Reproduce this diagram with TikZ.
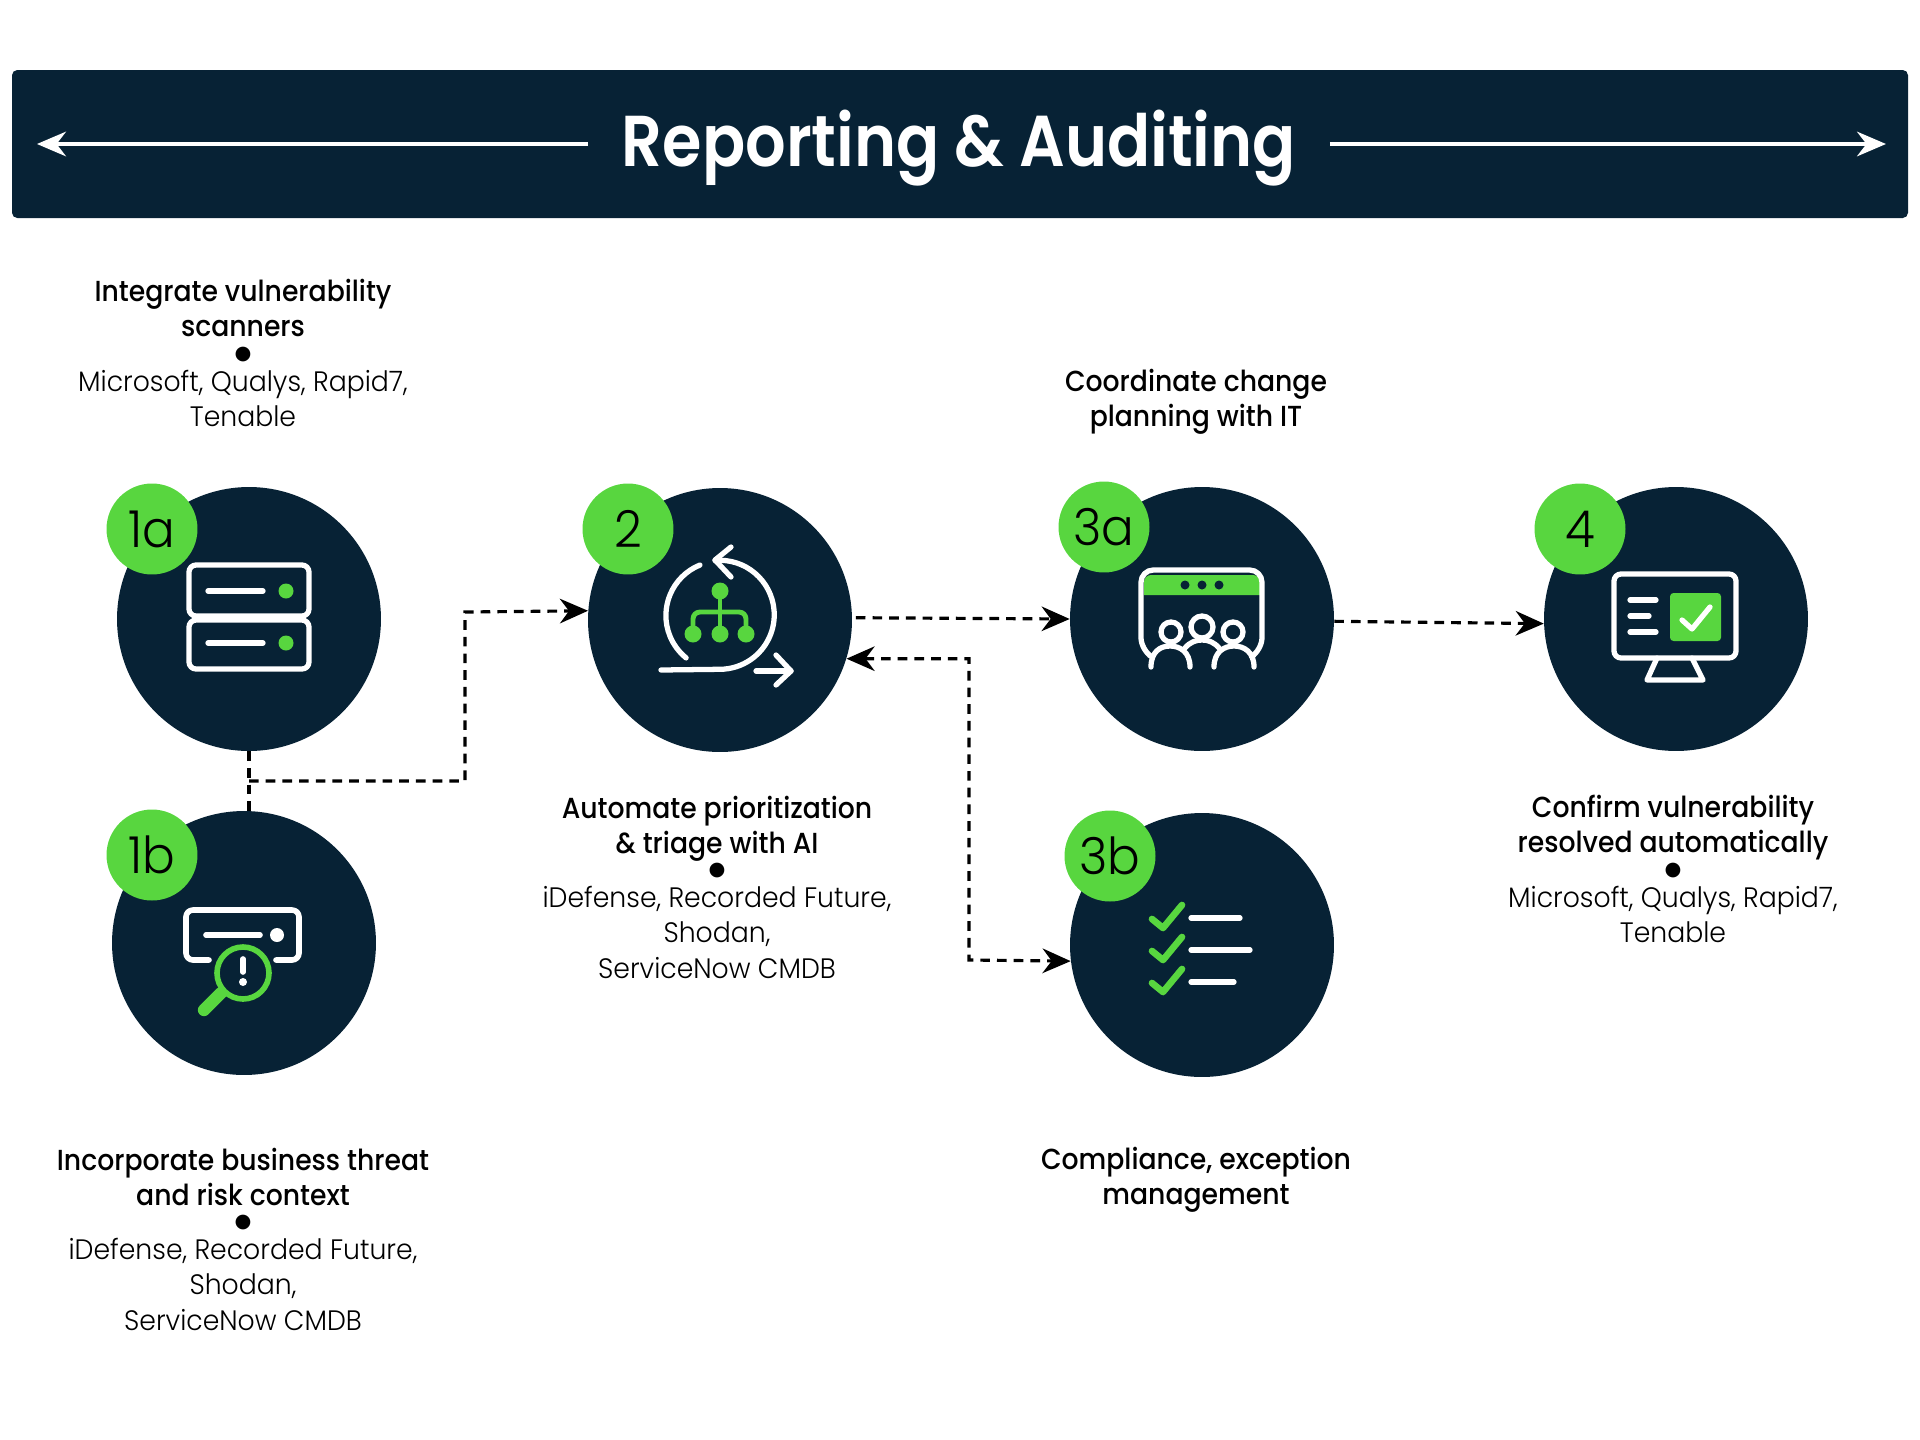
\documentclass[tikz,border=0pt]{standalone}
\usepackage{fontspec}
\setmainfont{Poppins}[FakeStretch=0.95]
\newfontfamily\lightfont{Poppins Light}[FakeStretch=0.95]
\newfontfamily\midfont{Poppins Medium}[FakeStretch=0.92]
\newfontfamily\topfont{Poppins SemiBold}[FakeStretch=0.885]
\newfontfamily\dotfont{DejaVu Sans}
\usetikzlibrary{arrows.meta}
\definecolor{navy}{HTML}{072235}
\definecolor{leaf}{HTML}{58D63F}
\newcommand{\hd}[1]{{\midfont\fontsize{16.5}{20}\selectfont #1}}
\newcommand{\sep}{\raisebox{2.8pt}{\dotfont\fontsize{11}{20}\selectfont ●}}
\tikzset{
    step circle/.style={circle, fill=navy, minimum size=5.28cm, inner sep=0pt},
    badge/.style={circle, fill=leaf, minimum size=1.82cm, inner sep=0pt, font=\lightfont\fontsize{29}{29}\selectfont},
    flow/.style={-{Stealth[length=16pt,width=14pt]}, line width=1.8pt, dash pattern=on 5.5pt off 4pt},
    bar arrow/.style={-{Stealth[length=16.5pt,width=14pt]}, white, line width=2pt},
    caption/.style={align=center, font=\lightfont\fontsize{16}{20}\selectfont, inner sep=0pt},
    ink/.style={white, line width=3pt, line cap=round, line join=round},
    inkg/.style={leaf, line width=3pt, line cap=round, line join=round},
}
\begin{document}
\begin{tikzpicture}[x=0.02cm,y=-0.02cm]
    \useasboundingbox (0,0) rectangle (1920,1440);
    \fill[navy, rounded corners=3pt] (12,70) rectangle (1908,218);
    \node[white, inner xsep=19pt, inner ysep=0pt, font=\topfont\fontsize{41}{41}\selectfont](title) at (959,148) {Reporting \& Auditing};
    \coordinate (barL) at (37,144);
    \coordinate (barR) at (1886,144);
    \draw[bar arrow] (barL -| title.west) -- (barL);
    \draw[bar arrow] (barR -| title.east) -- (barR);

    \node[step circle](n1a) at (249,619) {};
    \node[step circle](n1b) at (244,943) {};
    \node[step circle](n2)  at (720,620) {};
    \node[step circle](n3a) at (1202,619) {};
    \node[step circle](n3b) at (1202,945) {};
    \node[step circle](n4)  at (1676,619) {};

    \node[badge](b1a) at (152,529)  {1a};
    \node[badge](b1b) at (152,855)  {1b};
    \node[badge](b2)  at (628,529)  {2};
    \node[badge](b3a) at (1104,527) {3a};
    \node[badge](b3b) at (1110,856) {3b};
    \node[badge](b4)  at (1580,529) {4};

    \coordinate (forkA) at (249,781);
    \coordinate (elbowA) at (465,612);
    \coordinate (elbowC) at (969,960);
    \path
        (n2.1)   edge [flow, shorten <=2pt] (n3a.west)
        (n3a.-1) edge [flow] (n4.182);
    \draw[flow, -] (n1a.south) -- (n1a.south |- n1b.north);
    \draw[flow] (forkA) -| (elbowA) -- (n2.176.5);
    \draw[flow, {Stealth[length=16pt,width=14pt]}-{Stealth[length=16pt,width=14pt]}] (n2.-17) -| (elbowC) -- (n3b.187);

    \node[caption](t1a) at (243,353) {\hd{Integrate vulnerability}\\\hd{scanners}\\[-4.5pt]\sep\\[-4.5pt]Microsoft, Qualys, Rapid7,\\Tenable};
    \node[caption](t1b) at (243,1239) {\hd{Incorporate business threat}\\\hd{and risk context}\\[-4.5pt]\sep\\[-4.5pt]iDefense, Recorded Future,\\Shodan,\\ServiceNow CMDB};
    \node[caption](t2)  at (717,887) {\hd{Automate prioritization}\\\hd{\& triage with AI}\\[-4.5pt]\sep\\[-4.5pt]iDefense, Recorded Future,\\Shodan,\\ServiceNow CMDB};
    \node[caption](t3a) at (1196,402) {\hd{Coordinate change}\\\hd{planning with IT}};
    \node[caption](t3b) at (1196,1180) {\hd{Compliance, exception}\\\hd{management}};
    \node[caption](t4)  at (1673,869) {\hd{Confirm vulnerability}\\\hd{resolved automatically}\\[-4.5pt]\sep\\[-4.5pt]Microsoft, Qualys, Rapid7,\\Tenable};

    % server
    \draw[ink, rounded corners=4pt] (189,565) rectangle (309,616);
    \draw[ink, rounded corners=4pt] (189,620) rectangle (309,669);
    \draw[ink] (208,591) -- (263,591);
    \draw[ink] (208,643) -- (263,643);
    \fill[leaf] (286,591) circle (7.5);
    \fill[leaf] (286,643) circle (7.5);

    % scan
    \draw[ink, line width=3.2pt, rounded corners=4pt] (209,960) -- (186,960) -- (186,910) -- (299,910) -- (299,960) -- (276,960);
    \draw[ink, line width=3.2pt] (206,935) -- (260,935);
    \fill[white] (277,935) circle (7);
    \draw[inkg, line width=3.2pt] (243,973) circle (26);
    \draw[inkg, line width=7pt] (221,993) -- (204,1010);
    \draw[ink, line width=3.2pt] (243,959) -- (243,972);
    \fill[white] (243,982) circle (4);

    % triage
    \draw[ink] (700,565) arc (248:129:54.5);
    \draw[ink] (715,560.5) arc (-95:90:54.5) -- (661,670);
    \draw[ink] (731,547) -- (715,560) -- (731,577);
    \draw[ink] (756,671) -- (791,671);
    \draw[ink] (776,655) -- (791,671) -- (776,685);
    \draw[inkg, line width=2.8pt] (720,591) -- (720,634);
    \draw[inkg, line width=2.8pt, rounded corners=4pt] (693,634) -- (693,612) -- (746,612) -- (746,634);
    \foreach \cx/\cy in {720/591, 693/634, 720/634, 746/634}
        \fill[leaf] (\cx,\cy) circle (8.5);

    % meeting
    \fill[leaf] (1144,595) [rounded corners=4pt] -- (1144,575) -- (1260,575) [sharp corners] -- (1260,595) -- cycle;
    \foreach \cx in {1185,1202,1219}
        \fill[navy] (\cx,585) circle (4.5);
    \draw[ink, rounded corners=7pt] (1149,655) -- (1141,650) -- (1141,570) -- (1262,570) -- (1262,650) -- (1254,655);
    \draw[ink] (1202,627) circle (11);
    \draw[ink] (1171,632) circle (10);
    \draw[ink] (1233,632) circle (10);
    \draw[ink] (1151,667) .. controls (1151,652) and (1160,646) .. (1170,646) .. controls (1180,646) and (1190,652) .. (1190,667);
    \draw[ink] (1214,667) .. controls (1214,652) and (1224,646) .. (1234,646) .. controls (1244,646) and (1254,652) .. (1254,667);
    \draw[ink] (1185,648) .. controls (1190,642) and (1196,640) .. (1202,640) .. controls (1208,640) and (1214,642) .. (1219,648);

    % checklist
    \foreach \dy/\len in {0/1240, 32/1250, 64/1234}{
        \draw[inkg, line width=3.8pt] (1152,919+\dy) -- (1163,928+\dy) -- (1182,905+\dy);
        \draw[ink] (1191,918+\dy) -- (\len,918+\dy);
    }

    % monitor
    \draw[ink, rounded corners=4pt] (1614,574) rectangle (1736,658);
    \draw[ink] (1630,600) -- (1656,600);
    \draw[ink] (1630,616) -- (1649,616);
    \draw[ink] (1630,632) -- (1656,632);
    \fill[leaf, rounded corners=2pt] (1670,593) rectangle (1721,641);
    \draw[ink] (1682,620) -- (1692,629) -- (1710,607);
    \draw[ink] (1657,658) -- (1647,680) -- (1703,680) -- (1692,658);
\end{tikzpicture}
\end{document}
